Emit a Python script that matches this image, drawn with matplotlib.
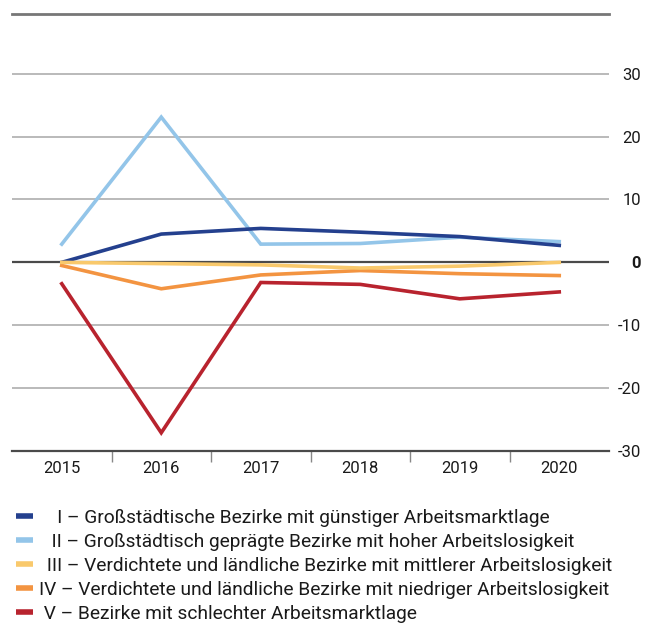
import numpy as np
import matplotlib.pyplot as plt
from matplotlib.lines import Line2D

plt.rcParams['font.family'] = ['Roboto', 'DejaVu Sans']

#%% Data
years = ['2015', '2016', '2017', '2018', '2019', '2020']
typ1 = [0.0, 4.5, 5.4, 4.8, 4.1, 2.7]
typ2 = [2.9, 23.1, 2.9, 3.0, 4.0, 3.3]
typ3 = [0.0, -0.2, -0.4, -0.9, -0.6, 0.0]
typ4 = [-0.5, -4.2, -2.0, -1.3, -1.8, -2.1]
typ5 = [-3.4, -27.1, -3.2, -3.5, -5.8, -4.7]
labels = ['   \u2009I – Großstädtische Bezirke mit günstiger Arbeitsmarktlage',
          ' \u2009\u2009II – Großstädtisch geprägte Bezirke mit hoher Arbeitslosigkeit',
          '\u2009\u2009III – Verdichtete und ländliche Bezirke mit mittlerer Arbeitslosigkeit',
          'IV – Verdichtete und ländliche Bezirke mit niedriger Arbeitslosigkeit',
          ' V – Bezirke mit schlechter Arbeitsmarktlage']
yticks = [-30, -20, -10, 0, 10, 20, 30]

colors = ['#24408e', '#93c5e9', '#f9c96c', '#f39441', '#b8232e']

#%% Plotting
fig = plt.figure(figsize=(6.55, 6.3), dpi=100)
ax = fig.add_axes([12/655, 179/630, 597/655, 437/630])
x = np.arange(len(years))

# grid
for v in yticks:
    if v == 0:
        ax.axhline(v, color='#4a4a4a', lw=1.6, zorder=1)
    elif v == -30:
        continue
    else:
        ax.axhline(v, color='#b4b4b4', lw=1.3, zorder=1)

series = [typ1, typ2, typ3, typ4, typ5]
order = [1, 0, 4, 3, 2]
for i in order:
    ax.plot(x, series[i], color=colors[i], lw=2.6, solid_joinstyle='miter', zorder=3)

ax.set_xlim(-0.5, len(years) - 0.5)
ax.set_ylim(-30, 39.5)

for s in ['left', 'right']:
    ax.spines[s].set_visible(False)
ax.spines['top'].set_color('#777777')
ax.spines['top'].set_linewidth(2)
ax.spines['bottom'].set_color('#4a4a4a')
ax.spines['bottom'].set_linewidth(1.6)

ax.yaxis.tick_right()
ax.set_yticks(yticks)
ax.set_yticklabels([str(v) for v in yticks], fontsize=12, color='#1a1a1a', ha='right')
ax.tick_params(axis='y', length=0, pad=23)
for t in ax.get_yticklabels():
    if t.get_text() == '0':
        t.set_fontweight('bold')

# category labels with boundary ticks
ax.set_xticks(x)
ax.set_xticklabels(years, fontsize=12, color='#1a1a1a')
ax.set_xticks(np.arange(0.5, len(years) - 1, 1), minor=True)
ax.tick_params(axis='x', which='major', length=0, pad=7)
ax.tick_params(axis='x', which='minor', length=8, width=1, color='#888888')

handles = [Line2D([0], [0], color=c, lw=4, solid_capstyle='butt') for c in colors]
fig.legend(handles, labels, loc='upper left', bbox_to_anchor=(0.012, 0.204),
           frameon=False, fontsize=13.8, handlelength=0.9, handletextpad=0.3,
           labelspacing=0.31, borderaxespad=0, labelcolor='#1a1a1a')

fig.savefig('out.png', dpi=100)
